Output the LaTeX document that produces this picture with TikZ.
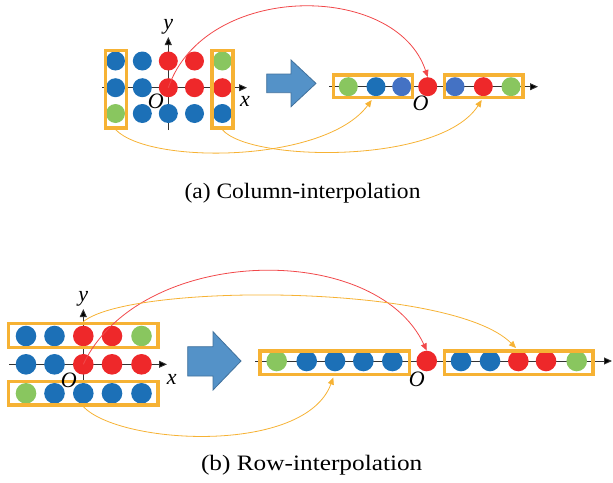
\documentclass[tikz,border=0pt]{standalone}
\usepackage{fontspec}
\setmainfont{Liberation Serif}
\usetikzlibrary{arrows.meta}
\definecolor{cB}{RGB}{28,112,183}
\definecolor{cL}{RGB}{68,114,196}
\definecolor{cR}{RGB}{238,40,42}
\definecolor{cG}{RGB}{137,198,95}
\definecolor{cO}{RGB}{246,178,52}
\definecolor{cA}{RGB}{84,146,200}
\definecolor{cAd}{RGB}{65,113,156}
\begin{document}
\begin{tikzpicture}[x=1pt,y=-1pt,
  dot/.style={circle,inner sep=0pt,minimum size=19pt},
  bdot/.style={circle,inner sep=0pt,minimum size=20.6pt},
  dB/.style={fill=cB}, dR/.style={fill=cR}, dG/.style={fill=cG}, dL/.style={fill=cL},
  obox/.style={draw=cO,line width=3.5pt,inner sep=0pt},
  axis/.style={draw=black!80,line width=0.9pt,-{Triangle[length=8pt,width=7pt,fill=black]}},
  redc/.style={draw=cR!85,line width=0.8pt,-{Triangle[length=7pt,width=6pt]}},
  orc/.style={draw=cO,line width=0.8pt,-{Triangle[length=7pt,width=6pt]}},
  blk/.style={fill=cA,draw=cAd,line width=0.8pt},
  lab/.style={font=\fontsize{22}{26}\selectfont\itshape,inner sep=0pt},
  captxt/.style={font=\fontsize{22}{26}\selectfont,inner sep=0pt}]
\useasboundingbox (0,0) rectangle (613,482);
% ---------- top (a) ----------
\coordinate (tyS) at (168.3,130);
\coordinate (tyE) at (168.3,37);
\coordinate (txS) at (102,87.7);
\coordinate (txE) at (247,87.7);
\draw[axis] (tyS) -- (tyE);
\draw[axis] (txS) -- (txE);
\coordinate (toS) at (329,86.7);
\coordinate (toE) at (538,86.7);
\draw[axis] (toS) -- (toE);
% grid
\node[dot,dB] (t11) at (115.5,61) {};
\node[dot,dB] (t12) at (142.3,61) {};
\node[dot,dR] (t13) at (168.3,61) {};
\node[dot,dR] (t14) at (194.5,61) {};
\node[dot,dG] (t15) at (222.3,61) {};
\node[dot,dB] (t21) at (115.5,87.7) {};
\node[dot,dB] (t22) at (142.3,87.7) {};
\node[dot,dR] (t23) at (168.3,87.7) {};
\node[dot,dR] (t24) at (194.5,87.7) {};
\node[dot,dR] (t25) at (222.3,87.7) {};
\node[dot,dG] (t31) at (115.5,113.5) {};
\node[dot,dB] (t32) at (142.3,113.5) {};
\node[dot,dB] (t33) at (168.3,113.5) {};
\node[dot,dB] (t34) at (194.5,113.5) {};
\node[dot,dB] (t35) at (222.3,113.5) {};
\node[obox,minimum width=21pt,minimum height=77.7pt] (tlbox) at (115.8,89.2) {};
\node[obox,minimum width=21pt,minimum height=77.7pt] (trbox) at (222.5,89.2) {};
\node[lab] (ty) at (168.3,27) {y};
\node[lab] (tx) at (245,101.5) {x};
\node[lab] (tO) at (155.7,101.7) {O};
% arrow block
\draw[blk] (266.7,74) -- (291,74) -- (291,60) -- (316,83.4) -- (291,106.7) -- (291,92.7) -- (266.7,92.7) -- cycle;
% output row
\node[dot,dG] (o1) at (348.3,86.7) {};
\node[dot,dB] (o2) at (376,86.7) {};
\node[dot,dL] (o3) at (401.7,86.7) {};
\node[dot,dR] (o4) at (427.7,86.7) {};
\node[dot,dL] (o5) at (455,86.7) {};
\node[dot,dR] (o6) at (483.3,86.7) {};
\node[dot,dG] (o7) at (511,86.7) {};
\node[obox,minimum width=79pt,minimum height=22.2pt] (olbox) at (373,86.2) {};
\node[obox,minimum width=78.8pt,minimum height=22.2pt] (orbox) at (483.8,86.2) {};
\node[lab] (oO) at (420.5,103.3) {O};
% curves
\coordinate (ta1) at (371.7,100);
\coordinate (ta2) at (481.7,100);
\draw[redc] (t23.center) .. controls (205,-18.5) and (396,-18.5) .. (o4.north);
\draw[orc] (tlbox.south) .. controls (150,165) and (325,163) .. (ta1);
\draw[orc] (trbox.south) .. controls (250,162) and (440,165) .. (ta2);
\node[captxt] (capa) at (302.5,193) {\scalebox{1.07}[1]{(a) Column-interpolation}};
% ---------- bottom (b) ----------
\coordinate (byS) at (83.3,405);
\coordinate (byE) at (83.3,309);
\coordinate (bxS) at (9,364.3);
\coordinate (bxE) at (167,364.3);
\draw[axis] (byS) -- (byE);
\draw[axis] (bxS) -- (bxE);
\coordinate (boS) at (255,361);
\coordinate (boE) at (612,361);
\draw[axis] (boS) -- (boE);
\node[bdot,dB] (s11) at (26,336) {};
\node[bdot,dB] (s12) at (54.5,336) {};
\node[bdot,dR] (s13) at (83.3,336) {};
\node[bdot,dR] (s14) at (112,336) {};
\node[bdot,dG] (s15) at (141.5,336) {};
\node[bdot,dB] (s21) at (26,364.3) {};
\node[bdot,dB] (s22) at (54.5,364.3) {};
\node[bdot,dR] (s23) at (83.3,364.3) {};
\node[bdot,dR] (s24) at (112,364.3) {};
\node[bdot,dR] (s25) at (141.5,364.3) {};
\node[bdot,dG] (s31) at (26,393.3) {};
\node[bdot,dB] (s32) at (54.5,393.3) {};
\node[bdot,dB] (s33) at (83.3,393.3) {};
\node[bdot,dB] (s34) at (112,393.3) {};
\node[bdot,dB] (s35) at (141.5,393.3) {};
\node[obox,minimum width=149.8pt,minimum height=24.1pt] (stbox) at (83.3,335.5) {};
\node[obox,minimum width=149.8pt,minimum height=23.2pt] (sbbox) at (83.3,393.3) {};
\node[lab] (sy) at (83.3,299) {y};
\node[lab] (sx) at (171.7,379) {x};
\node[lab] (sO) at (68.8,380.5) {O};
\draw[blk] (187.7,346.7) -- (213,346.7) -- (213,331.7) -- (241,361) -- (213,390) -- (213,376) -- (187.7,376) -- cycle;
\node[bdot,dG] (p1) at (276.7,361) {};
\node[bdot,dB] (p2) at (306.7,361) {};
\node[bdot,dB] (p3) at (335,361) {};
\node[bdot,dB] (p4) at (363.3,361) {};
\node[bdot,dB] (p5) at (392.3,361) {};
\node[bdot,dR] (p6) at (426.7,361) {};
\node[bdot,dB] (p7) at (461,361) {};
\node[bdot,dB] (p8) at (490,361) {};
\node[bdot,dR] (p9) at (518.3,361) {};
\node[bdot,dR] (p10) at (546,361) {};
\node[bdot,dG] (p11) at (576.7,361) {};
\node[obox,minimum width=149.2pt,minimum height=23.5pt] (plbox) at (334.7,362.5) {};
\node[obox,minimum width=148.8pt,minimum height=23.5pt] (prbox) at (518.8,362.5) {};
\node[lab] (pO) at (416.7,379.2) {O};
\coordinate (ba1) at (516,348);
\coordinate (ba2) at (333.3,377.5);
\draw[redc] (s23.center) .. controls (140,245) and (375,240) .. (p6.north);
\draw[orc] (stbox.north) .. controls (130,283) and (451,283) .. (ba1);
\draw[orc] (sbbox.south) .. controls (120,445) and (305,455) .. (ba2);
\node[captxt] (capb) at (311.7,465.5) {\scalebox{1.15}[1]{(b) Row-interpolation}};
\end{tikzpicture}
\end{document}
